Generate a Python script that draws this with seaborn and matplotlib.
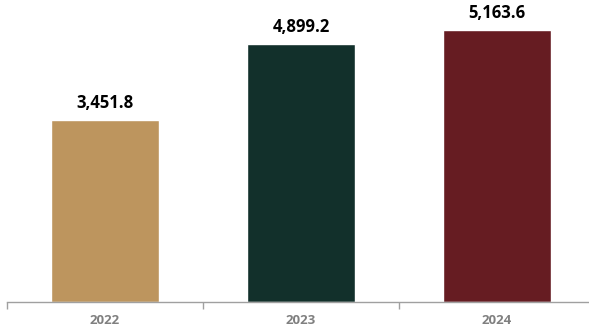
import matplotlib
matplotlib.use("Agg")
import matplotlib.pyplot as plt
import seaborn as sns
import pandas as pd

years = ["2022", "2023", "2024"]
values = [3451.8, 4899.2, 5163.6]
colors = ["#BD955E", "#12302B", "#661C22"]

sns.set_theme(style="white")
plt.rcParams["font.family"] = ["Open Sans", "DejaVu Sans"]

df = pd.DataFrame({"year": years, "value": values})

fig = plt.figure(figsize=(5.89, 3.30), dpi=100)
ax = fig.add_axes([7 / 589, 28 / 330, 588 / 589, 302 / 330])

sns.barplot(data=df, x="year", y="value", hue="year", palette=colors,
            width=0.55, saturation=1, legend=False, ax=ax)

for i, v in enumerate(values):
    ax.text(i, v + 150, f"{v:,.1f}", ha="center", va="bottom",
            fontsize=12, fontweight="bold", color="black")

ax.set_xlim(-0.5, 2.5)
ax.set_ylim(0, 5733)
ax.set_xlabel("")
ax.set_ylabel("")
ax.set_yticks([])
ax.set_xticks([0, 1, 2])
ax.set_xticks([-0.5, 0.5, 1.5], minor=True)
ax.tick_params(axis="x", which="major", length=0, pad=9,
               labelsize=9.5, labelcolor="#808080")
for lab in ax.get_xticklabels():
    lab.set_fontweight("bold")
ax.tick_params(axis="x", which="minor", length=5, width=1, color="#A0A0A0",
               direction="out", bottom=True)

for side in ["top", "right", "left"]:
    ax.spines[side].set_visible(False)
ax.spines["bottom"].set_color("#A0A0A0")
ax.spines["bottom"].set_linewidth(1)

fig.savefig("out.png", dpi=100)
